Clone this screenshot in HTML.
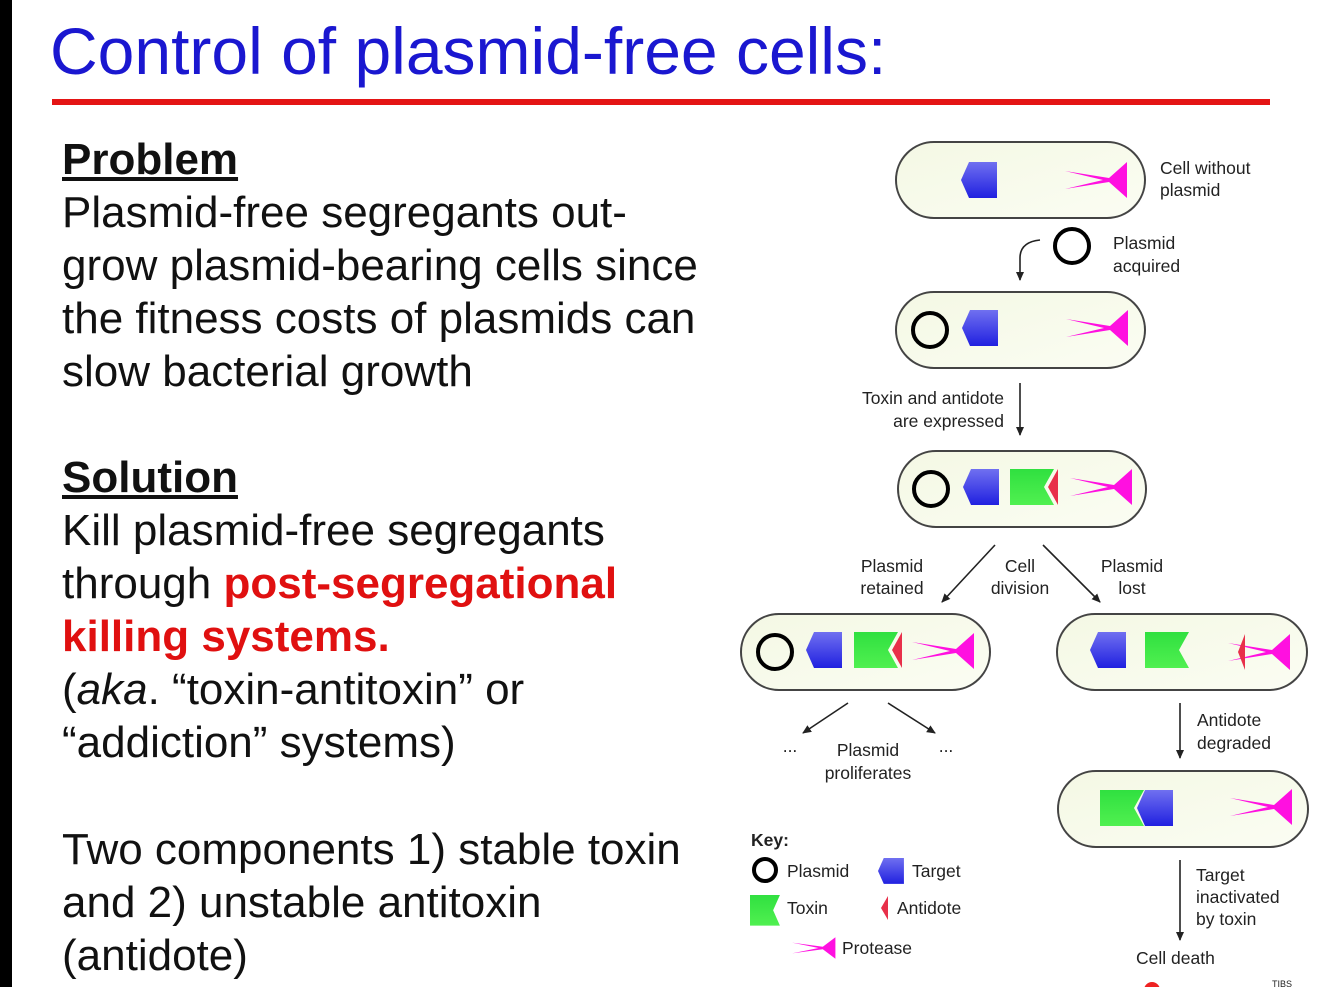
<!DOCTYPE html>
<html><head><meta charset="utf-8"><style>
body{margin:0;width:1334px;height:987px;background:#fff;overflow:hidden;position:relative;font-family:"Liberation Sans",Arial,sans-serif}
.bar{position:absolute;left:0;top:0;width:12px;height:987px;background:#000}
.t{position:absolute;left:50px;top:13px;font-size:66px;color:#1a17d0;white-space:nowrap}
.rl{position:absolute;left:52px;top:99px;width:1218px;height:6px;background:#e41414}
.tx{position:absolute;left:62px;font-size:44px;line-height:53px;color:#111;white-space:nowrap}
.h{font-weight:bold;text-decoration:underline}
.r{color:#e01010;font-weight:bold}
svg{position:absolute;left:0;top:0}
svg text{font-family:"Liberation Sans",Arial,sans-serif;font-size:17.5px;fill:#222}
</style></head><body>
<div class="bar"></div>
<div class="t">Control of plasmid-free cells:</div>
<div class="rl"></div>
<div class="tx" style="top:133px"><span class="h">Problem</span><br>Plasmid-free segregants out-<br>grow plasmid-bearing cells since<br>the fitness costs of plasmids can<br>slow bacterial growth</div>
<div class="tx" style="top:451px"><span class="h">Solution</span><br>Kill plasmid-free segregants<br>through <span class="r">post-segregational</span><br><span class="r">killing systems.</span><br>(<i>aka</i>. “toxin-antitoxin” or<br>“addiction” systems)</div>
<div class="tx" style="top:823px">Two components 1) stable toxin<br>and 2) unstable antitoxin<br>(antidote)</div>
<svg width="1334" height="987" viewBox="0 0 1334 987">
<defs>
<linearGradient id="cg" x1="0" y1="0" x2="1" y2="1"><stop offset="0" stop-color="#f4f8e4"/><stop offset="1" stop-color="#fbfdf3"/></linearGradient>
<linearGradient id="bg" x1="0" y1="0" x2="0" y2="1"><stop offset="0" stop-color="#7070f0"/><stop offset="1" stop-color="#2020e0"/></linearGradient>
<linearGradient id="gg" x1="0" y1="0" x2="0" y2="1"><stop offset="0" stop-color="#30e040"/><stop offset="1" stop-color="#50f050"/></linearGradient>
<g id="tg"><polygon points="0,18 8,0 36,0 36,36 8,36" fill="url(#bg)"/></g>
<g id="tx"><polygon points="0,0 44,0 34,18 44,36 0,36" fill="url(#gg)"/></g>
<g id="tr"><polygon points="44,0 34,18 44,36" fill="#e8304a"/></g>
<g id="pr"><polygon points="0,-9 44,-2 62,-18 62,18 44,2 0,9 38,0" fill="#ff10e0"/></g>
<marker id="ah" markerWidth="10" markerHeight="10" refX="8" refY="5" orient="auto" markerUnits="userSpaceOnUse"><path d="M0,1 L9,5 L0,9 Z" fill="#222"/></marker>
</defs>
<g fill="url(#cg)" stroke="#444" stroke-width="2">
<rect x="896" y="142" width="249" height="76" rx="38"/>
<rect x="896" y="292" width="249" height="76" rx="38"/>
<rect x="898" y="451" width="248" height="76" rx="38"/>
<rect x="741" y="614" width="249" height="76" rx="38"/>
<rect x="1057" y="614" width="250" height="76" rx="38"/>
<rect x="1058" y="771" width="250" height="76" rx="38"/>
</g>
<g fill="none" stroke="#000" stroke-width="4">
<circle cx="1072" cy="246" r="17"/><circle cx="930" cy="330" r="17"/><circle cx="931" cy="489" r="17"/><circle cx="775" cy="652" r="17"/><circle cx="765" cy="870" r="11"/>
</g>
<use href="#tg" x="961" y="162"/><use href="#pr" x="1065" y="180"/>
<use href="#tg" x="962" y="310"/><use href="#pr" x="1066" y="328"/>
<use href="#tg" x="963" y="469"/><use href="#tx" x="1010" y="469"/><use href="#tr" x="1014" y="469"/><use href="#pr" x="1070" y="487"/>
<use href="#tg" x="806" y="632"/><use href="#tx" x="854" y="632"/><use href="#tr" x="858" y="632"/><use href="#pr" x="912" y="651"/>
<use href="#tg" x="1090" y="632"/><use href="#tx" x="1145" y="632"/><use href="#pr" x="1228" y="652"/>
<polygon points="1245,634 1238,652 1245,670" fill="#e8304a"/>
<use href="#tx" x="1100" y="790"/><use href="#tg" x="1137" y="790"/><use href="#pr" x="1230" y="807"/>
<g stroke="#222" stroke-width="1.6" fill="none" marker-end="url(#ah)">
<path d="M1040,240 Q1020,242 1020,258 L1020,280"/>
<line x1="1020" y1="383" x2="1020" y2="435"/>
<line x1="995" y1="545" x2="942" y2="602"/>
<line x1="1043" y1="545" x2="1100" y2="602"/>
<line x1="848" y1="703" x2="803" y2="733"/>
<line x1="888" y1="703" x2="935" y2="733"/>
<line x1="1180" y1="703" x2="1180" y2="758"/>
<line x1="1180" y1="860" x2="1180" y2="940"/>
</g>
<text x="1160" y="174">Cell without</text><text x="1160" y="196">plasmid</text>
<text x="1113" y="249">Plasmid</text><text x="1113" y="272">acquired</text>
<text x="1004" y="404" text-anchor="end">Toxin and antidote</text><text x="1004" y="427" text-anchor="end">are expressed</text>
<text x="892" y="572" text-anchor="middle">Plasmid</text><text x="892" y="594" text-anchor="middle">retained</text>
<text x="1020" y="572" text-anchor="middle">Cell</text><text x="1020" y="594" text-anchor="middle">division</text>
<text x="1132" y="572" text-anchor="middle">Plasmid</text><text x="1132" y="594" text-anchor="middle">lost</text>
<text x="790" y="752" text-anchor="middle">...</text><text x="946" y="752" text-anchor="middle">...</text>
<text x="868" y="756" text-anchor="middle">Plasmid</text><text x="868" y="779" text-anchor="middle">proliferates</text>
<text x="1197" y="726">Antidote</text><text x="1197" y="749">degraded</text>
<text x="1196" y="881">Target</text><text x="1196" y="903">inactivated</text><text x="1196" y="925">by toxin</text>
<text x="1136" y="964">Cell death</text>
<text x="751" y="846" font-weight="bold">Key:</text>
<text x="787" y="877">Plasmid</text>
<g transform="translate(878,858) scale(0.72)"><use href="#tg"/></g>
<text x="912" y="877">Target</text>
<g transform="translate(750,895) scale(0.68,0.85)"><use href="#tx"/></g>
<text x="787" y="914">Toxin</text>
<polygon points="888,896 881,908 888,920" fill="#e8304a"/>
<text x="897" y="914">Antidote</text>
<g transform="translate(792,948) scale(0.7,0.6)"><use href="#pr"/></g>
<text x="842" y="954">Protease</text>
<circle cx="1152" cy="990" r="8" fill="#e22"/>
<text x="1272" y="987" style="font-size:9px">TIBS</text>
</svg>
</body></html>
